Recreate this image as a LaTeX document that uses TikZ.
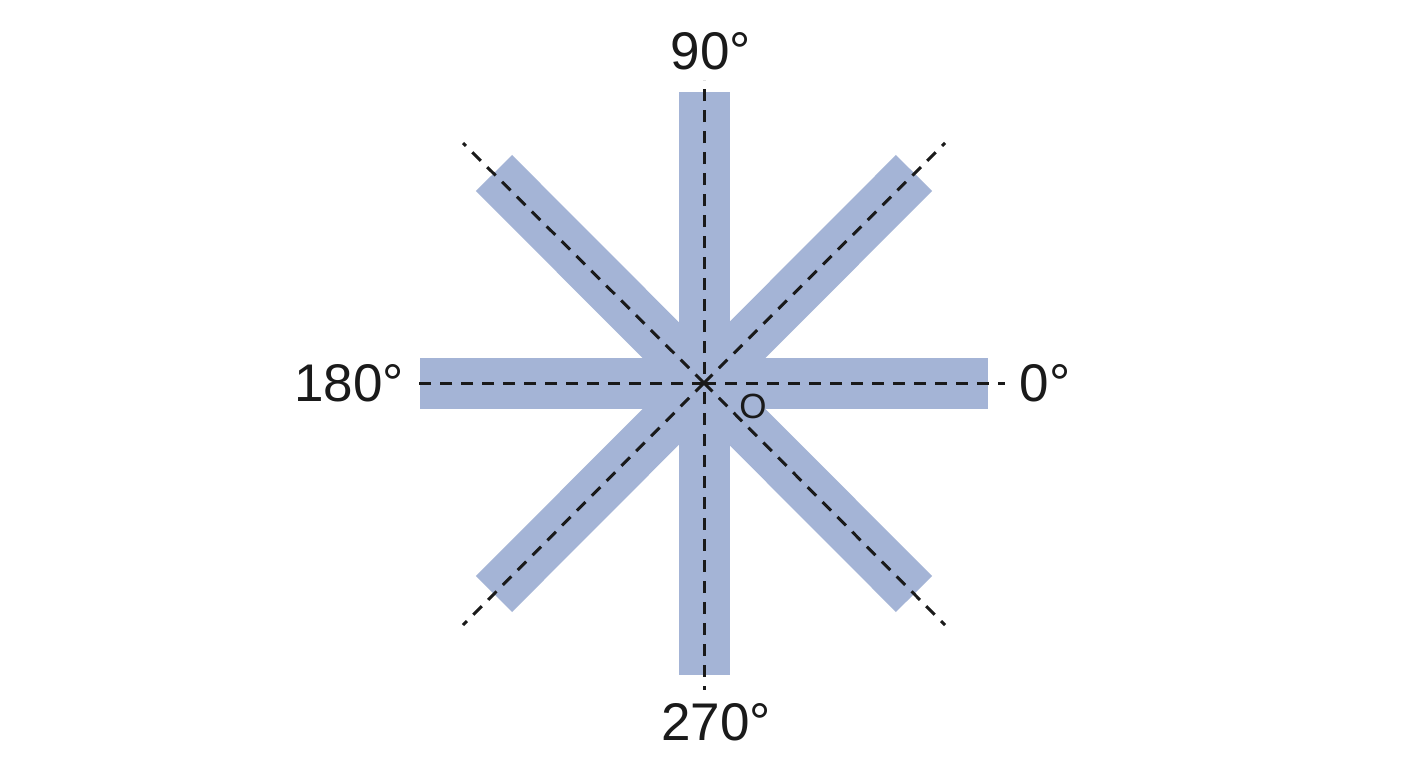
\documentclass[tikz,border=0pt]{standalone}
\usepackage{fontspec}
\setmainfont{Liberation Sans}
\usetikzlibrary{calc}
\definecolor{barblue}{RGB}{164,180,214}
\definecolor{ink}{RGB}{26,26,26}
\begin{document}
\begin{tikzpicture}[x=1pt,y=-1pt,
  bar/.style={barblue, line width=51pt, line cap=butt},
  axis/.style={ink, line width=3pt, dash pattern=on 12pt off 9pt},
  deg/.style={font=\fontsize{53}{60}\selectfont, inner sep=0pt, text=ink},
  olabel/.style={font=\fontsize{35}{40}\selectfont, inner sep=0pt, text=ink}]
\useasboundingbox[fill=white] (0,0) rectangle (1408,768);
\coordinate (O) at (704,383);
% bars
\coordinate (hL) at ($(O)+(-284,0)$);
\coordinate (hR) at ($(O)+(284,0)$);
\coordinate (vT) at ($(O)+(0,-291)$);
\coordinate (vB) at ($(O)+(0,292)$);
\coordinate (dUL) at ($(O)+(-210,-210)$);
\coordinate (dLR) at ($(O)+(210,211)$);
\coordinate (dUR) at ($(O)+(210,-210)$);
\coordinate (dLL) at ($(O)+(-210,211)$);
\draw[bar] (hL) -- (hR);
\draw[bar] (vT) -- (vB);
\draw[bar] (dUL) -- (dLR);
\draw[bar] (dUR) -- (dLL);
% dashed axes
\coordinate (aL) at ($(O)+(-292,0)$);
\coordinate (aR) at ($(O)+(301,0)$);
\coordinate (aT) at ($(O)+(0,-303)$);
\coordinate (aB) at ($(O)+(0,307)$);
\coordinate (aUL) at ($(O)+(-241,-240)$);
\coordinate (aUR) at ($(O)+(241,-240)$);
\coordinate (aLL) at ($(O)+(-241,242)$);
\coordinate (aLR) at ($(O)+(241,242)$);
\foreach \e in {aL,aR,aUL,aUR,aLL,aLR}
  \draw[axis] (O) -- (\e);
\foreach \e in {aT,aB}
  \draw[axis, dash phase=12pt] (O) -- (\e);
% labels
\node[deg] (l90) at (711,51) {90°};
\node[deg] (l180) at (349,383) {180°};
\node[deg] (l0) at (1045,383) {0°};
\node[deg] (l270) at (716,722) {270°};
\node[olabel] (lO) at (753,406) {O};
\end{tikzpicture}
\end{document}
